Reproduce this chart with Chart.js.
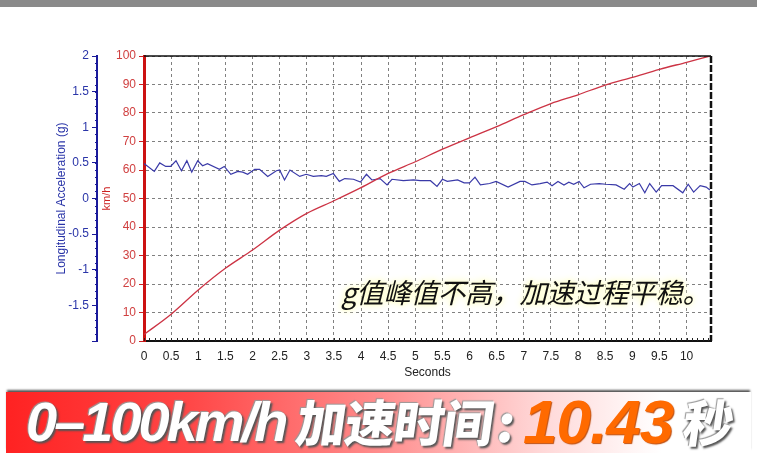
<!DOCTYPE html>
<html>
<head>
<meta charset="utf-8">
<script src="https://cdn.jsdelivr.net/npm/chart.js@4"></script>
<style>
  html, body { margin: 0; padding: 0; background: #fff; }
  #page { position: relative; width: 757px; height: 460px; overflow: hidden; background: #fff; }
  #topbar { position: absolute; left: 0; top: 0; width: 757px; height: 7px; background: #8a8a8a; }
  #chartBox { position: absolute; left: 0; top: 0; width: 757px; height: 385px; }
  #note {
    position: absolute; left: 341px; top: 271px;
    font-family: "Noto Sans CJK SC", sans-serif; font-size: 27.5px; font-style: italic;
    color: #111; white-space: nowrap; letter-spacing: -0.3px;
    text-shadow: 0 0 3px #ffffd0, 0 0 6px #ffffc8, 0 0 9px #ffffc0;
  }
  #banner {
    position: absolute; left: 6px; top: 392px; width: 745px; height: 61px;
    background: linear-gradient(to right, #ff2222 0%, #ff4848 25%, #ff8c8c 50%, #ffd8d8 72%, #ffffff 88%, #ffffff 100%);
    box-shadow: 0 -3px 2px -1px #555;
  }
  #banner span {
    position: absolute; top: -3px; font-weight: bold; font-style: italic; white-space: nowrap;
    color: #fff; text-shadow: 2px 2px 2px #555, -1px -1px 1px #999;
  }
  #banner .lat { font-family: "Liberation Sans", Arial, sans-serif; font-size: 56px; letter-spacing: -3px; }
  #banner .cjk { font-family: "Noto Sans CJK SC", sans-serif; font-size: 50px; font-weight: 900; top: -8px; font-style: normal; transform: skewX(-8deg); letter-spacing: -1px; }
  #banner .num { color: #ff6a00; font-size: 62px; letter-spacing: -1px; top: -6px; text-shadow: 1px 1px 1px #c05010; }
</style>
</head>
<body>
<div id="page">
  <div id="topbar"></div>
  <div id="chartBox"><canvas id="accelChart"></canvas></div>
  <div id="note">g值峰值不高，加速过程平稳。</div>
  <div id="banner">
    <span class="lat" style="left:20px">0–100km/h</span>
    <span class="cjk" style="left:291px">加速时间</span>
    <span class="cjk" style="left:492px">:</span>
    <span class="lat num" style="left:517px">10.43</span>
    <span class="cjk" style="left:678px">秒</span>
  </div>
</div>
<script>
// tick labels
const xTicks = [0, 0.5, 1, 1.5, 2, 2.5, 3, 3.5, 4, 4.5, 5, 5.5, 6, 6.5, 7, 7.5, 8, 8.5, 9, 9.5, 10];
const kmhTicks = [0, 10, 20, 30, 40, 50, 60, 70, 80, 90, 100];
const gTicks = [-2, -1.5, -1, -0.5, 0, 0.5, 1, 1.5, 2];

// speed (km/h) vs time (s)
const speedTime = [0, 0.5, 1, 1.5, 2, 2.5, 3, 3.5, 4, 4.5, 5, 5.5, 6, 6.5, 7, 7.5, 8, 8.5, 9, 9.5, 10, 10.43];
const speedKmh = [2.3, 9.4, 17.9, 25.5, 31.9, 38.9, 44.8, 49.2, 53.8, 58.8, 62.9, 67.3, 71.3, 75.2, 79.4, 83.3, 86.4, 89.8, 92.5, 95.3, 97.8, 100];

// longitudinal acceleration (g) vs time (s)
const accelTime = [0, 0.19, 0.29, 0.4, 0.49, 0.59, 0.69, 0.79, 0.88, 0.99, 1.08, 1.17, 1.39, 1.48, 1.6, 1.73, 1.82, 1.91, 2.04, 2.13,
  2.28, 2.44, 2.5, 2.59, 2.69, 2.87, 2.99, 3.12, 3.27, 3.36, 3.49, 3.6, 3.7, 3.86, 3.99, 4.1, 4.2, 4.35, 4.48, 4.57,
  4.78, 4.97, 5.09, 5.28, 5.4, 5.5, 5.59, 5.78, 5.9, 6.0, 6.1, 6.2, 6.37, 6.49, 6.71, 6.93, 7.02, 7.15, 7.3, 7.43,
  7.52, 7.63, 7.74, 7.83, 7.92, 8.02, 8.11, 8.23, 8.39, 8.51, 8.7, 8.85, 8.95, 9.01, 9.13, 9.23, 9.32, 9.44, 9.54, 9.75,
  9.93, 10.03, 10.13, 10.25, 10.36, 10.43];
const accelG = [0.49, 0.38, 0.5, 0.45, 0.45, 0.53, 0.39, 0.53, 0.37, 0.53, 0.46, 0.49, 0.41, 0.45, 0.34, 0.38, 0.37, 0.34, 0.41, 0.41,
  0.31, 0.39, 0.4, 0.26, 0.4, 0.31, 0.34, 0.31, 0.32, 0.31, 0.35, 0.24, 0.28, 0.27, 0.23, 0.34, 0.26, 0.28, 0.19, 0.27,
  0.25, 0.26, 0.25, 0.25, 0.17, 0.27, 0.24, 0.26, 0.22, 0.22, 0.3, 0.19, 0.21, 0.24, 0.16, 0.24, 0.24, 0.19, 0.21, 0.23,
  0.18, 0.24, 0.19, 0.23, 0.2, 0.24, 0.15, 0.2, 0.21, 0.2, 0.19, 0.13, 0.21, 0.16, 0.21, 0.08, 0.21, 0.09, 0.18, 0.18,
  0.08, 0.2, 0.09, 0.18, 0.16, 0.12];

const FONT = "'Liberation Sans', Arial, sans-serif";

const frame = {
  id: 'frame',
  afterDraw(chart) {
    const { ctx, chartArea: a, scales } = chart;
    ctx.save();
    // top border
    ctx.strokeStyle = '#111';
    ctx.lineWidth = 1.5;
    ctx.beginPath();
    ctx.moveTo(a.left, a.top);
    ctx.lineTo(a.right, a.top);
    ctx.stroke();
    // right border
    ctx.lineWidth = 2.5;
    ctx.setLineDash([7, 2]);
    ctx.beginPath();
    ctx.moveTo(a.right, a.top);
    ctx.lineTo(a.right, a.bottom);
    ctx.stroke();
    ctx.setLineDash([]);
    // small ticks along x axis
    ctx.lineWidth = 1;
    ctx.strokeStyle = '#222';
    for (let i = 0; i <= 104; i++) {
      const px = Math.round(scales.x.getPixelForValue(i / 10)) + 0.5;
      ctx.beginPath();
      ctx.moveTo(px, a.bottom);
      ctx.lineTo(px, a.bottom - 3);
      ctx.stroke();
    }
    // small ticks along g axis
    const g = scales.yG;
    ctx.strokeStyle = '#1a1a9a';
    for (let i = -20; i <= 20; i++) {
      const py = Math.round(g.getPixelForValue(i / 10)) + 0.5;
      ctx.beginPath();
      ctx.moveTo(g.right, py);
      ctx.lineTo(g.right - 2, py);
      ctx.stroke();
    }
    ctx.restore();
  }
};

new Chart(document.getElementById('accelChart'), {
  type: 'line',
  data: {
    datasets: [
      {
        label: 'km/h',
        data: speedTime.map((t, i) => ({ x: t, y: speedKmh[i] })),
        yAxisID: 'y',
        borderColor: '#cc3344',
        borderWidth: 1.3,
        pointRadius: 0,
        cubicInterpolationMode: 'monotone'
      },
      {
        label: 'Longitudinal Acceleration (g)',
        data: accelTime.map((t, i) => ({ x: t, y: accelG[i] })),
        yAxisID: 'yG',
        borderColor: '#3a3aa8',
        borderWidth: 1.2,
        pointRadius: 0,
        tension: 0
      }
    ]
  },
  options: {
    responsive: true,
    maintainAspectRatio: false,
    animation: false,
    layout: { padding: { top: 56, right: 46, bottom: 5, left: 48 } },
    plugins: { legend: { display: false }, tooltip: { enabled: false } },
    scales: {
      x: {
        type: 'linear',
        min: 0,
        max: 10.45,
        afterBuildTicks: s => { s.ticks = xTicks.map(v => ({ value: v })); },
        afterFit: s => { s.height = 39; },
        grid: { color: '#808080', drawTicks: false },
        border: { color: '#111', width: 2, dash: [3, 3] },
        ticks: { color: '#222', font: { family: FONT, size: 12 }, padding: 8, maxRotation: 0, autoSkip: false, callback: v => String(v) },
        title: { display: true, text: 'Seconds', color: '#222', font: { family: FONT, size: 12 }, padding: { top: 0, bottom: 0 } }
      },
      y: {
        type: 'linear',
        position: 'left',
        weight: 0,
        min: 0,
        max: 100,
        afterBuildTicks: s => { s.ticks = kmhTicks.map(v => ({ value: v })); },
        afterFit: s => { s.width = 47; },
        grid: { color: '#808080', tickColor: '#cc2222', tickLength: 5, tickBorderDash: [] },
        border: { color: '#cc1111', width: 3, dash: [3, 3] },
        ticks: { color: '#d04040', font: { family: FONT, size: 12 }, padding: 3 },
        title: { display: true, text: 'km/h', color: '#cc2222', font: { family: FONT, size: 11 }, padding: { top: 3, bottom: 0 } }
      },
      yG: {
        type: 'linear',
        position: 'left',
        weight: 1,
        min: -2,
        max: 2,
        afterBuildTicks: s => { s.ticks = gTicks.map(v => ({ value: v })); },
        afterFit: s => { s.width = 49; },
        grid: { drawOnChartArea: false, tickColor: '#1a1a9a', tickLength: 5 },
        border: { color: '#1a1a9a', width: 2 },
        ticks: { color: '#2a35a8', font: { family: FONT, size: 12 }, padding: 3, callback: v => (v === -2 ? '' : String(v)) },
        title: { display: true, text: 'Longitudinal Acceleration (g)', color: '#2a35a8', font: { family: FONT, size: 12 }, padding: { top: 6, bottom: 0 } }
      }
    }
  },
  plugins: [frame]
});
</script>
</body>
</html>
